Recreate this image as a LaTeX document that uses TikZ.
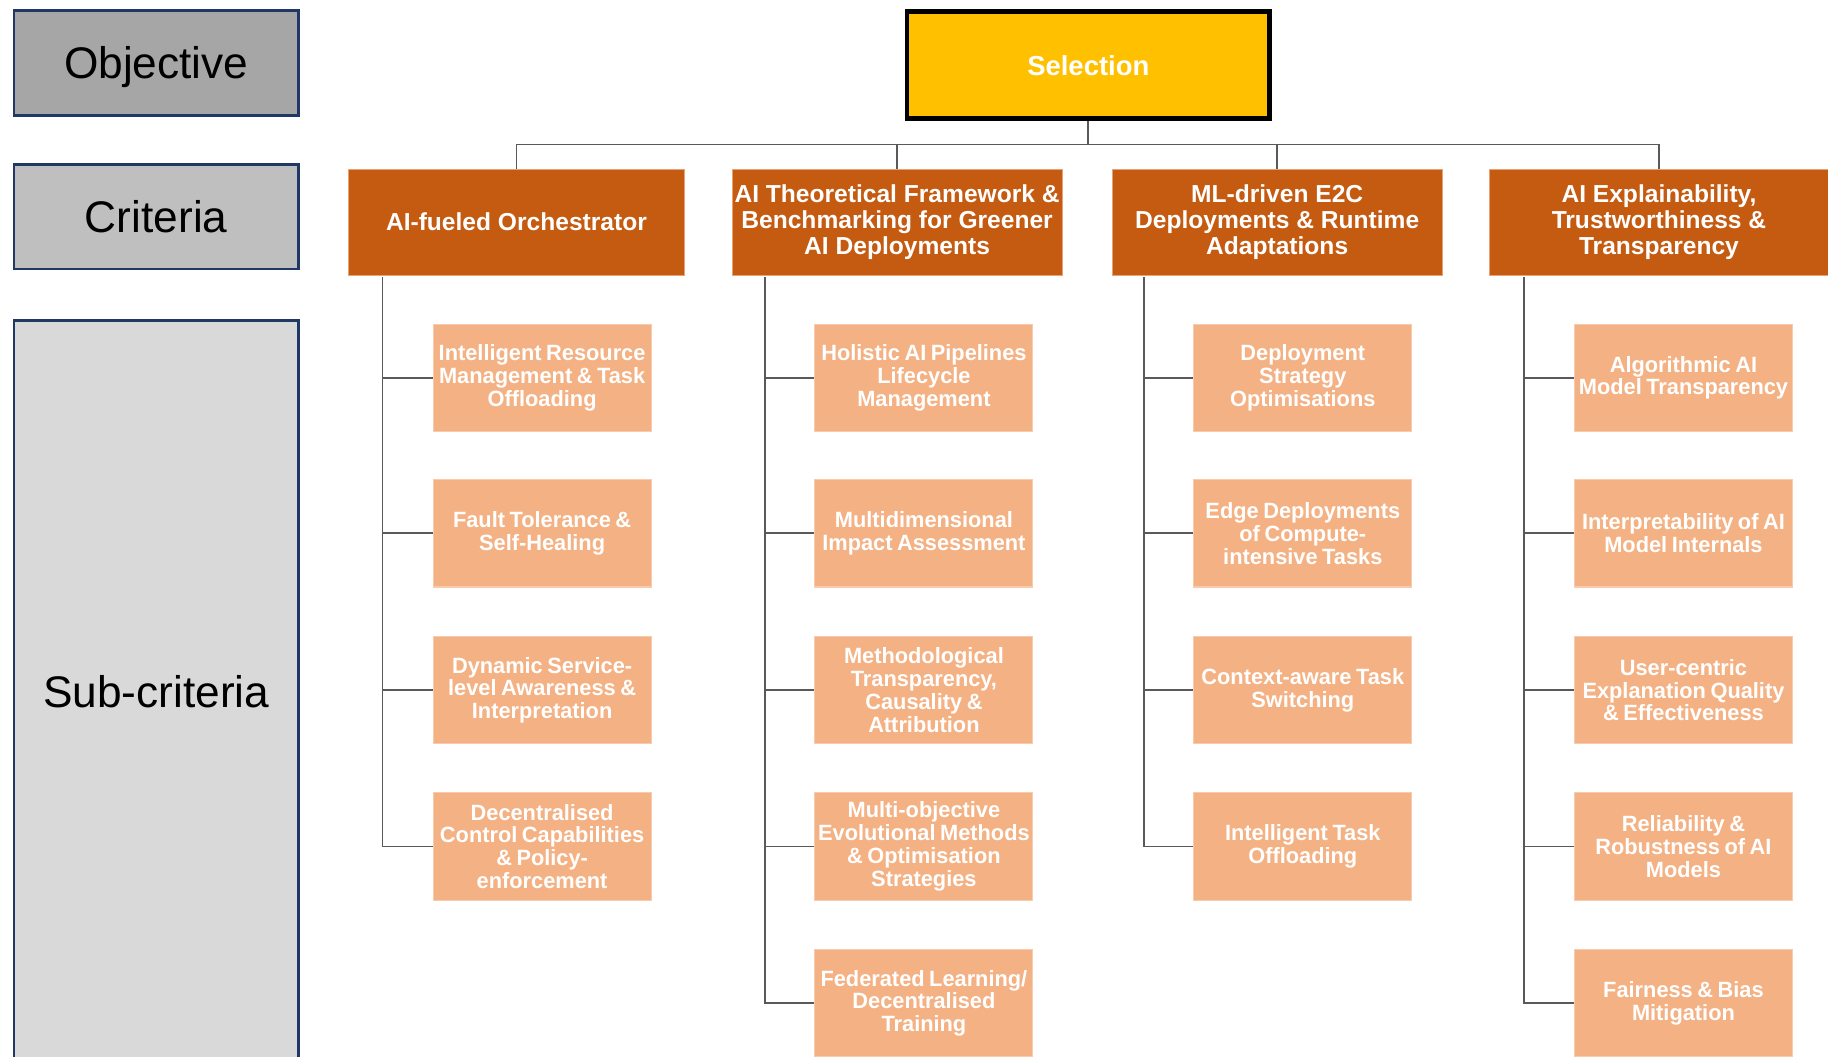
\documentclass[tikz,border=0pt]{standalone}
\usepackage{fontspec}
\setmainfont{Liberation Sans}
\newfontfamily\boxfont[FakeStretch=0.985, WordSpace=0.75]{Liberation Sans}
\newfontfamily\critfont{Liberation Sans}
\definecolor{navy}{HTML}{1F3864}
\definecolor{objgray}{HTML}{A6A6A6}
\definecolor{crigray}{HTML}{BFBFBF}
\definecolor{subgray}{HTML}{D9D9D9}
\definecolor{selyellow}{HTML}{FFC000}
\definecolor{critorange}{HTML}{C55A11}
\definecolor{critedge}{HTML}{E8A27A}
\definecolor{subpeach}{HTML}{F4B183}
\definecolor{subedge}{HTML}{F8CBAD}
\definecolor{connc}{HTML}{595959}
\tikzset{
  levelbox/.style={draw=navy, line width=1.1pt, minimum width=244*0.02cm, inner sep=0pt,
    font=\fontsize{21.6}{26}\selectfont, text=black},
  selbox/.style={draw=black, line width=2.4pt, fill=selyellow, minimum width=311*0.02cm,
    minimum height=92*0.02cm, inner sep=0pt, text=white, font=\fontsize{13.4}{16}\selectfont\bfseries},
  critbox/.style={draw=critedge, line width=0.5pt, fill=critorange, minimum height=91*0.02cm,
    inner sep=0pt, align=center, text=white, font=\critfont\fontsize{12}{12.5}\selectfont\bfseries},
  subbox/.style={draw=subedge, line width=0.5pt, fill=subpeach, minimum width=187*0.02cm,
    minimum height=92*0.02cm, inner sep=0pt, align=center, text=white,
    font=\boxfont\fontsize{10.8}{11.1}\selectfont\bfseries},
  conn/.style={draw=connc, line width=0.85pt},
}
\begin{document}
\begin{tikzpicture}[x=0.02cm, y=-0.02cm]
\path[use as bounding box, clip] (0,0) rectangle (1568,906);
\fill[white] (0,0) rectangle (1568,906);

% level labels
\node[levelbox, fill=objgray, minimum height=90*0.02cm, text depth=0pt] (lobj) at (134,54) {Objective};
\node[levelbox, fill=crigray, minimum height=90*0.02cm] (lcrit) at (134,186) {Criteria};
\node[levelbox, fill=subgray, minimum height=636*0.02cm] (lsub) at (134,593) {Sub-criteria};

% objective
\node[selbox] (sel) at (933.5,56) {Selection};

% criteria
\node[critbox, minimum width=288*0.02cm] (c1) at (443,190.5) {AI-fueled Orchestrator};
\node[critbox, minimum width=283*0.02cm] (c2) at (769.5,190.5) {AI Theoretical Framework \&\\Benchmarking for Greener\\AI Deployments};
\node[critbox, minimum width=283*0.02cm] (c3) at (1095.5,190.5) {ML-driven E2C\\Deployments \& Runtime\\Adaptations};
\node[critbox, minimum width=290*0.02cm] (c4) at (1423,190.5) {AI Explainability,\\Trustworthiness \&\\Transparency};

% bus
\coordinate (bus) at (933.5,124);
\draw[conn] (sel.south) -- (sel.south |- bus);
\draw[conn] (c1.north) -- (c1.north |- bus) -- (c4.north |- bus) -- (c4.north);
\draw[conn] (c2.north) -- (c2.north |- bus);
\draw[conn] (c3.north) -- (c3.north |- bus);

% sub-criteria column 1
\node[subbox] (s11) at (465,324) {Intelligent Resource\\Management \& Task\\Offloading};
\node[subbox] (s12) at (465,457.5) {Fault Tolerance \&\\Self-Healing};
\node[subbox] (s13) at (465,592) {Dynamic Service-\\level Awareness \&\\Interpretation};
\node[subbox] (s14) at (465,726) {Decentralised\\Control Capabilities\\\& Policy-\\enforcement};

% column 2
\node[subbox] (s21) at (792.5,324) {Holistic AI Pipelines\\Lifecycle\\Management};
\node[subbox] (s22) at (792.5,457.5) {Multidimensional\\Impact Assessment};
\node[subbox] (s23) at (792.5,592) {Methodological\\Transparency,\\Causality \&\\Attribution};
\node[subbox] (s24) at (792.5,726) {Multi-objective\\Evolutional Methods\\\& Optimisation\\Strategies};
\node[subbox] (s25) at (792.5,860.5) {Federated Learning/\\Decentralised\\Training};

% column 3
\node[subbox] (s31) at (1117.5,324) {Deployment\\Strategy\\Optimisations};
\node[subbox] (s32) at (1117.5,457.5) {Edge Deployments\\of Compute-\\intensive Tasks};
\node[subbox] (s33) at (1117.5,592) {Context-aware Task\\Switching};
\node[subbox] (s34) at (1117.5,726) {Intelligent Task\\Offloading};

% column 4
\node[subbox] (s41) at (1444,324) {Algorithmic AI\\Model Transparency};
\node[subbox] (s42) at (1444,457.5) {Interpretability of AI\\Model Internals};
\node[subbox] (s43) at (1444,592) {User-centric\\Explanation Quality\\\& Effectiveness};
\node[subbox] (s44) at (1444,726) {Reliability \&\\Robustness of AI\\Models};
\node[subbox] (s45) at (1444,860.5) {Fairness \& Bias\\Mitigation};

% trunks
\coordinate (t1) at (328,238);
\coordinate (t2) at (656,238);
\coordinate (t3) at (981,238);
\coordinate (t4) at (1307,238);
\foreach \r in {1,2,3,4} { \draw[conn] (t1) |- (s1\r.west); }
\foreach \r in {1,2,3,4,5} { \draw[conn] (t2) |- (s2\r.west); }
\foreach \r in {1,2,3,4} { \draw[conn] (t3) |- (s3\r.west); }
\foreach \r in {1,2,3,4,5} { \draw[conn] (t4) |- (s4\r.west); }
\end{tikzpicture}
\end{document}
